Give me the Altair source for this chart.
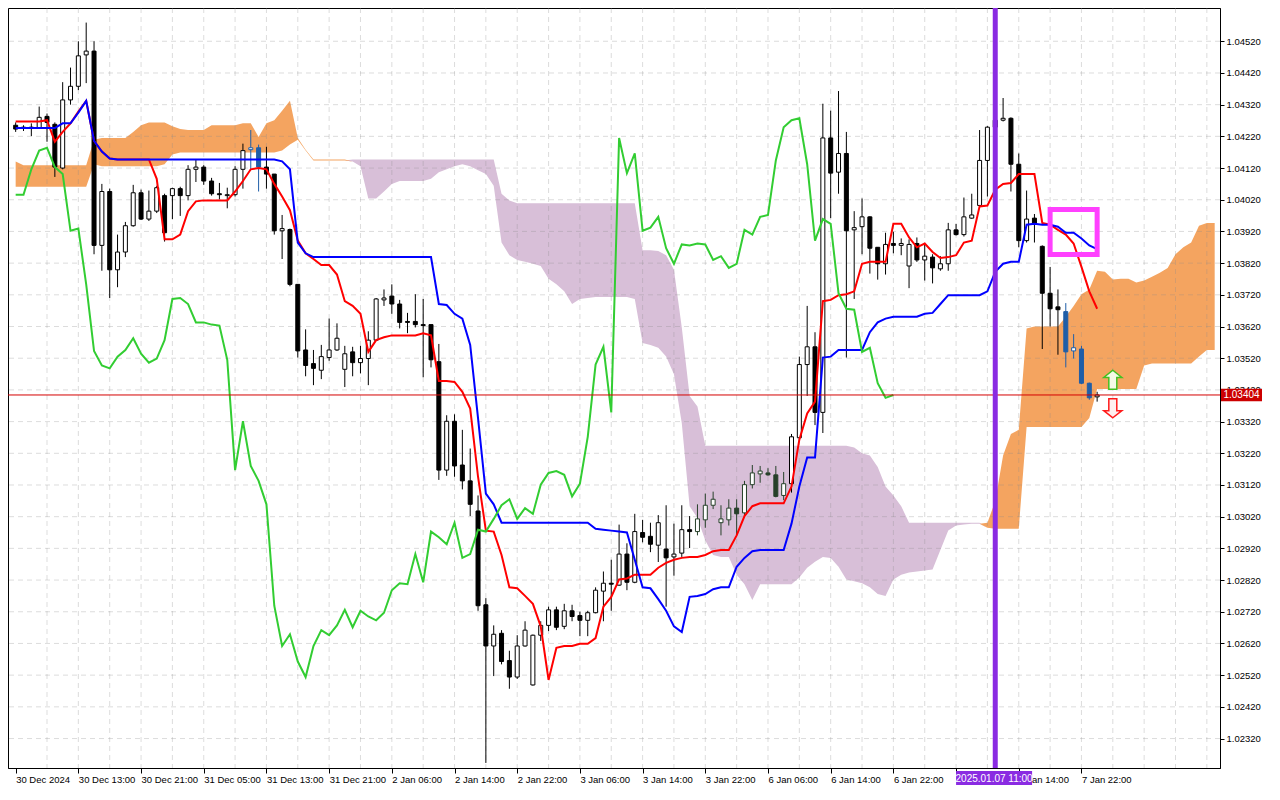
import altair as alt
import pandas as pd

# ---------------- data (EURUSD H1) ----------------
opens = [
    1.04255, 1.04246, 1.04246, 1.04246, 1.04283, 1.04258, 1.04120, 1.04335, 1.04378, 1.04477,
    1.04489, 1.03876, 1.04046, 1.03799, 1.03855, 1.03938, 1.04042, 1.03959, 1.03984, 1.04033,
    1.04033, 1.04055, 1.04033, 1.04116, 1.04123, 1.04079, 1.04039, 1.04033, 1.04036, 1.04116,
    1.04178, 1.04184, 1.04123, 1.04101, 1.03922, 1.03926, 1.03753, 1.03546, 1.03503, 1.03482,
    1.03522, 1.03546, 1.03485, 1.03540, 1.03506, 1.03519, 1.03577, 1.03704, 1.03716, 1.03691,
    1.03636, 1.03636, 1.03626, 1.03626, 1.03509, 1.03167, 1.03321, 1.03183, 1.03133, 1.03038,
    1.02742, 1.02612, 1.02652, 1.02566, 1.02514, 1.02612, 1.02489, 1.02646, 1.02677, 1.02726,
    1.02674, 1.02723, 1.02708, 1.02693, 1.02717, 1.02785, 1.02810, 1.02804, 1.02902, 1.02813,
    1.02970, 1.02958, 1.02930, 1.02918, 1.02893, 1.02905, 1.02979, 1.02973, 1.03010, 1.03056,
    1.03001, 1.03010, 1.03047, 1.03032, 1.03121, 1.03155, 1.03158, 1.03152, 1.03087, 1.03124,
    1.03269, 1.03500, 1.03556, 1.03349, 1.04215, 1.04107, 1.04166, 1.03925, 1.03935, 1.03966,
    1.03870, 1.03818, 1.03882, 1.03876, 1.03811, 1.03882, 1.03830, 1.03839, 1.03802, 1.03818,
    1.03925, 1.03910, 1.03962, 1.04002, 1.04144, 1.04249, 1.04271, 1.04277, 1.04132, 1.03891,
    1.03962, 1.03873, 1.03725, 1.03682, 1.03667, 1.03543, 1.03549, 1.03441, 1.03398,
]
highs = [
    1.04264, 1.04255, 1.04261, 1.04314, 1.04292, 1.04264, 1.04391, 1.04437, 1.04520, 1.04579,
    1.04520, 1.04070, 1.04055, 1.03910, 1.03950, 1.04067, 1.04052, 1.04049, 1.04064, 1.04039,
    1.04058, 1.04061, 1.04129, 1.04147, 1.04129, 1.04089, 1.04073, 1.04058, 1.04126, 1.04197,
    1.04240, 1.04194, 1.04187, 1.04101, 1.03972, 1.03929, 1.03753, 1.03611, 1.03546, 1.03562,
    1.03645, 1.03630, 1.03559, 1.03556, 1.03559, 1.03605, 1.03710, 1.03737, 1.03753, 1.03704,
    1.03663, 1.03722, 1.03707, 1.03626, 1.03565, 1.03340, 1.03343, 1.03294, 1.03235, 1.03087,
    1.02763, 1.02677, 1.02662, 1.02597, 1.02646, 1.02690, 1.02648, 1.02690, 1.02736, 1.02736,
    1.02745, 1.02742, 1.02720, 1.02723, 1.02797, 1.02847, 1.02884, 1.02995, 1.02936, 1.03029,
    1.03010, 1.03001, 1.03025, 1.03056, 1.02998, 1.03056, 1.03022, 1.03059, 1.03093, 1.03099,
    1.03056, 1.03075, 1.03075, 1.03133, 1.03183, 1.03180, 1.03173, 1.03180, 1.03161, 1.03281,
    1.03525, 1.03685, 1.03602, 1.04323, 1.04301, 1.04363, 1.04234, 1.03984, 1.04024, 1.03968,
    1.03870, 1.03916, 1.03919, 1.03898, 1.03895, 1.03901, 1.03879, 1.03848, 1.03842, 1.03947,
    1.03944, 1.04027, 1.04039, 1.04240, 1.04252, 1.04286, 1.04341, 1.04280, 1.04166, 1.04049,
    1.03975, 1.03876, 1.03808, 1.03737, 1.03694, 1.03596, 1.03559, 1.03443, 1.03414,
]
lows = [
    1.04234, 1.04237, 1.04221, 1.04244, 1.04203, 1.04092, 1.04116, 1.04320, 1.04366, 1.04388,
    1.03848, 1.03796, 1.03710, 1.03744, 1.03839, 1.03935, 1.03956, 1.03953, 1.03978, 1.03888,
    1.03959, 1.03969, 1.04018, 1.04076, 1.04067, 1.04033, 1.04021, 1.03993, 1.04030, 1.04055,
    1.04116, 1.04046, 1.04055, 1.03910, 1.03833, 1.03747, 1.03522, 1.03463, 1.03435, 1.03454,
    1.03512, 1.03543, 1.03429, 1.03463, 1.03472, 1.03435, 1.03577, 1.03685, 1.03660, 1.03614,
    1.03599, 1.03617, 1.03460, 1.03491, 1.03136, 1.03149, 1.03146, 1.03106, 1.03022, 1.02723,
    1.02243, 1.02517, 1.02554, 1.02477, 1.02508, 1.02610, 1.02487, 1.02628, 1.02659, 1.02662,
    1.02665, 1.02690, 1.02643, 1.02643, 1.02715, 1.02690, 1.02723, 1.02802, 1.02788, 1.02810,
    1.02939, 1.02908, 1.02877, 1.02736, 1.02834, 1.02893, 1.02921, 1.02961, 1.02985, 1.03044,
    1.02961, 1.02992, 1.02961, 1.03022, 1.03109, 1.03127, 1.03149, 1.03081, 1.03072, 1.03096,
    1.03260, 1.03401, 1.03309, 1.03284, 1.03962, 1.04039, 1.03522, 1.03707, 1.03848, 1.03787,
    1.03768, 1.03784, 1.03851, 1.03845, 1.03741, 1.03824, 1.03765, 1.03756, 1.03796, 1.03796,
    1.03907, 1.03904, 1.03960, 1.03999, 1.04030, 1.04240, 1.04267, 1.04046, 1.03870, 1.03885,
    1.03885, 1.03549, 1.03620, 1.03531, 1.03491, 1.03519, 1.03438, 1.03389, 1.03383,
]
closes = [
    1.04243, 1.04249, 1.04249, 1.04280, 1.04264, 1.04123, 1.04335, 1.04378, 1.04474, 1.04489,
    1.03876, 1.04046, 1.03799, 1.03855, 1.03938, 1.04042, 1.03959, 1.03984, 1.04058, 1.03916,
    1.04055, 1.04033, 1.04116, 1.04123, 1.04079, 1.04039, 1.04036, 1.04036, 1.04116, 1.04175,
    1.04184, 1.04123, 1.04101, 1.03922, 1.03929, 1.03753, 1.03543, 1.03497, 1.03488, 1.03525,
    1.03546, 1.03583, 1.03534, 1.03506, 1.03519, 1.03577, 1.03707, 1.03710, 1.03691, 1.03633,
    1.03633, 1.03626, 1.03623, 1.03515, 1.03167, 1.03321, 1.03180, 1.03133, 1.03059, 1.02739,
    1.02612, 1.02649, 1.02563, 1.02514, 1.02612, 1.02662, 1.02646, 1.02677, 1.02726, 1.02671,
    1.02723, 1.02705, 1.02693, 1.02717, 1.02788, 1.02810, 1.02807, 1.02902, 1.02813, 1.02973,
    1.02955, 1.02933, 1.03001, 1.02890, 1.02902, 1.02979, 1.02973, 1.03013, 1.03056, 1.03075,
    1.03013, 1.03047, 1.03029, 1.03121, 1.03158, 1.03164, 1.03152, 1.03084, 1.03124, 1.03272,
    1.03500, 1.03556, 1.03349, 1.04215, 1.04104, 1.04166, 1.03922, 1.03932, 1.03966, 1.03867,
    1.03818, 1.03879, 1.03876, 1.03882, 1.03879, 1.03830, 1.03842, 1.03805, 1.03818, 1.03925,
    1.03910, 1.03966, 1.03972, 1.04144, 1.04249, 1.04271, 1.04277, 1.04132, 1.03891, 1.03959,
    1.03944, 1.03725, 1.03676, 1.03673, 1.03540, 1.03553, 1.03441, 1.03395, 1.03404,
]
tenkan = [
    1.04267, 1.04267, 1.04267, 1.04267, 1.04271, 1.04203, 1.04234, 1.04261, 1.04298, 1.04332,
    1.04206, 1.04172, 1.04150, 1.04147, 1.04147, 1.04147, 1.04147, 1.04147, 1.04086, 1.03895,
    1.03895, 1.03910, 1.03984, 1.04015, 1.04018, 1.04018, 1.04018, 1.04018, 1.04046, 1.04079,
    1.04116, 1.04120, 1.04116, 1.04070, 1.04030, 1.03987, 1.03891, 1.03851, 1.03833, 1.03814,
    1.03814, 1.03784, 1.03700, 1.03685, 1.03660, 1.03540, 1.03577, 1.03586, 1.03592, 1.03592,
    1.03592, 1.03592, 1.03599, 1.03592, 1.03448, 1.03448, 1.03445, 1.03414, 1.03361, 1.03146,
    1.02976, 1.02973, 1.02899, 1.02797, 1.02794, 1.02770, 1.02745, 1.02674, 1.02505, 1.02606,
    1.02612, 1.02612, 1.02619, 1.02619, 1.02637, 1.02736, 1.02767, 1.02822, 1.02825, 1.02837,
    1.02837, 1.02837, 1.02859, 1.02874, 1.02884, 1.02890, 1.02893, 1.02893, 1.02899, 1.02911,
    1.02915, 1.02915, 1.02961, 1.03022, 1.03053, 1.03062, 1.03062, 1.03062, 1.03062, 1.03115,
    1.03263, 1.03346, 1.03383, 1.03700, 1.03704, 1.03719, 1.03722, 1.03731, 1.03818, 1.03824,
    1.03824, 1.03824, 1.03944, 1.03944, 1.03901, 1.03870, 1.03882, 1.03855, 1.03836, 1.03839,
    1.03845, 1.03885, 1.03891, 1.03999, 1.04002, 1.04052, 1.04070, 1.04073, 1.04101, 1.04101,
    1.04101, 1.03947, 1.03941, 1.03925, 1.03910, 1.03882, 1.03808, 1.03731, 1.03676,
]
kijun = [
    1.04246, 1.04246, 1.04246, 1.04246, 1.04246, 1.04246, 1.04261, 1.04261, 1.04295, 1.04332,
    1.04206, 1.04172, 1.04150, 1.04147, 1.04147, 1.04147, 1.04147, 1.04147, 1.04147, 1.04147,
    1.04147, 1.04147, 1.04147, 1.04147, 1.04147, 1.04147, 1.04147, 1.04147, 1.04147, 1.04147,
    1.04147, 1.04147, 1.04147, 1.04147, 1.04141, 1.04116, 1.03885, 1.03851, 1.03839, 1.03839,
    1.03839, 1.03839, 1.03839, 1.03839, 1.03839, 1.03839, 1.03839, 1.03839, 1.03839, 1.03839,
    1.03839, 1.03839, 1.03839, 1.03839, 1.03691, 1.03688, 1.03660, 1.03645, 1.03562, 1.03331,
    1.03093, 1.03059, 1.03001, 1.03001, 1.03001, 1.03001, 1.03001, 1.03001, 1.03001, 1.03001,
    1.03001, 1.03001, 1.03001, 1.03001, 1.02982, 1.02979, 1.02976, 1.02973, 1.02970, 1.02884,
    1.02797, 1.02794, 1.02760, 1.02723, 1.02674, 1.02656, 1.02767, 1.02770, 1.02776, 1.02791,
    1.02797, 1.02797, 1.02862, 1.02890, 1.02911, 1.02915, 1.02915, 1.02915, 1.02915, 1.02998,
    1.03115, 1.03207, 1.03207, 1.03522, 1.03525, 1.03546, 1.03546, 1.03546, 1.03546, 1.03602,
    1.03633, 1.03645, 1.03651, 1.03651, 1.03651, 1.03651, 1.03660, 1.03663, 1.03691, 1.03719,
    1.03719, 1.03719, 1.03719, 1.03719, 1.03731, 1.03793, 1.03818, 1.03824, 1.03824, 1.03941,
    1.03944, 1.03941, 1.03941, 1.03935, 1.03916, 1.03916, 1.03898, 1.03876, 1.03864,
]
span_a = [
    1.04141, 1.04129, 1.04129, 1.04129, 1.04129, 1.04129, 1.04129, 1.04129, 1.04129, 1.04129,
    1.04209, 1.04215, 1.04215, 1.04215, 1.04215, 1.04234, 1.04255, 1.04264, 1.04264, 1.04264,
    1.04252, 1.04243, 1.04240, 1.04240, 1.04240, 1.04255, 1.04255, 1.04255, 1.04255, 1.04261,
    1.04261, 1.04218, 1.04261, 1.04271, 1.04301, 1.04332, 1.04215, 1.04178, 1.04147, 1.04147,
    1.04147, 1.04147, 1.04147, 1.04141, 1.04126, 1.04024, 1.04024, 1.04046, 1.04070, 1.04079,
    1.04079, 1.04079, 1.04079, 1.04086, 1.04107, 1.04116, 1.04126, 1.04132, 1.04126, 1.04113,
    1.04101, 1.04064, 1.03885, 1.03845, 1.03830, 1.03824, 1.03818, 1.03811, 1.03771, 1.03753,
    1.03731, 1.03691, 1.03707, 1.03710, 1.03713, 1.03713, 1.03713, 1.03713, 1.03713, 1.03707,
    1.03568, 1.03562, 1.03553, 1.03525, 1.03469, 1.03315, 1.03053, 1.03016, 1.02945, 1.02899,
    1.02893, 1.02893, 1.02837, 1.02807, 1.02757, 1.02807, 1.02807, 1.02807, 1.02807, 1.02807,
    1.02828, 1.02859, 1.02878, 1.02893, 1.02890, 1.02862, 1.02822, 1.02816, 1.02810, 1.02797,
    1.02776, 1.02770, 1.02822, 1.02837, 1.02844, 1.02847, 1.02850, 1.02853, 1.02915, 1.02976,
    1.02992, 1.02995, 1.02998, 1.02998, 1.03001, 1.03069, 1.03213, 1.03281, 1.03294, 1.03614,
    1.03620, 1.03620, 1.03620, 1.03620, 1.03651, 1.03685, 1.03722, 1.03737, 1.03796, 1.03793,
    1.03768, 1.03771, 1.03771, 1.03759, 1.03765, 1.03777, 1.03790, 1.03805, 1.03848, 1.03870,
    1.03885, 1.03938, 1.03947, 1.03947,
]
span_b = [
    1.04061, 1.04061, 1.04061, 1.04061, 1.04061, 1.04061, 1.04061, 1.04061, 1.04061, 1.04061,
    1.04132, 1.04126, 1.04126, 1.04126, 1.04126, 1.04126, 1.04126, 1.04126, 1.04126, 1.04132,
    1.04163, 1.04169, 1.04169, 1.04169, 1.04169, 1.04169, 1.04169, 1.04169, 1.04169, 1.04169,
    1.04169, 1.04169, 1.04169, 1.04169, 1.04175, 1.04194, 1.04209, 1.04175, 1.04144, 1.04144,
    1.04144, 1.04144, 1.04144, 1.04147, 1.04147, 1.04147, 1.04147, 1.04147, 1.04147, 1.04147,
    1.04147, 1.04147, 1.04147, 1.04147, 1.04147, 1.04147, 1.04147, 1.04147, 1.04147, 1.04147,
    1.04147, 1.04147, 1.04039, 1.04018, 1.04009, 1.04009, 1.04009, 1.04009, 1.04009, 1.04009,
    1.04009, 1.04009, 1.04009, 1.04009, 1.04009, 1.04009, 1.04009, 1.04009, 1.04009, 1.04009,
    1.03861, 1.03861, 1.03858, 1.03845, 1.03799, 1.03617, 1.03401, 1.03368, 1.03244, 1.03244,
    1.03244, 1.03244, 1.03244, 1.03244, 1.03244, 1.03244, 1.03244, 1.03244, 1.03244, 1.03244,
    1.03244, 1.03244, 1.03244, 1.03244, 1.03244, 1.03244, 1.03244, 1.03238, 1.03220, 1.03213,
    1.03177, 1.03115, 1.03087, 1.03053, 1.03001, 1.03001, 1.03001, 1.03001, 1.03001, 1.03001,
    1.03001, 1.03001, 1.03001, 1.03001, 1.02985, 1.02982, 1.02982, 1.02982, 1.02982, 1.03303,
    1.03303, 1.03303, 1.03303, 1.03303, 1.03303, 1.03303, 1.03303, 1.03331, 1.03423, 1.03423,
    1.03423, 1.03423, 1.03423, 1.03423, 1.03497, 1.03503, 1.03503, 1.03503, 1.03503, 1.03503,
    1.03503, 1.03525, 1.03546, 1.03546,
]
x_tick_bars = [0, 8, 16, 24, 32, 40, 48, 56, 64, 72, 80, 88, 96, 104, 112, 120, 128, 136]
# the 7 Jan 06:00 slot is covered by the vertical-line date box in the reference
x_tick_labels = [
    "30 Dec 2024", "30 Dec 13:00", "30 Dec 21:00", "31 Dec 05:00", "31 Dec 13:00",
    "31 Dec 21:00", "2 Jan 06:00", "2 Jan 14:00", "2 Jan 22:00", "3 Jan 06:00",
    "3 Jan 14:00", "3 Jan 22:00", "6 Jan 06:00", "6 Jan 14:00", "6 Jan 22:00",
    "", "7 Jan 14:00", "7 Jan 22:00",
]
price_ticks = [
    1.02320, 1.02420, 1.02520, 1.02620, 1.02720, 1.02820, 1.02920, 1.03020,
    1.03120, 1.03220, 1.03320, 1.03420, 1.03520, 1.03620, 1.03720, 1.03820,
    1.03920, 1.04020, 1.04120, 1.04220, 1.04320, 1.04420, 1.04520,
]
last_price = 1.03404
last_price_text = "1.03404"
marker_bar = 125
marker_text = "2025.01.07 11:00"
marker_box_bars = [120.0, 129.7]
box_bars = [132.0, 138.0]
box_prices = [1.03989, 1.03847]
arrow_bar = 140
arrow_up_price = 1.03452
arrow_down_price = 1.03362
chikou_shift = 26

# ---------------- layout / style ----------------
W, H = 1212, 760
PAD = {"left": 0, "top": 0, "right": 52, "bottom": 24}
FONT = "Liberation Sans"
FS = 9.5
X_DOMAIN = [-0.34, 153.04]
Y_DOMAIN = [1.02227, 1.04625]
PRICE_BOX_HALF = 0.0002
blue_bars = [30, 31, 134, 135, 136, 137]
green_bars = list(range(87, 99))
grid_bars = list(range(4, 153, 4))

xscale = alt.Scale(domain=X_DOMAIN, nice=False, zero=False)
yscale = alt.Scale(domain=Y_DOMAIN, nice=False, zero=False)
label_expr = ("[" + ",".join("'" + s + "'" for s in x_tick_labels) + "][indexof(["
              + ",".join(str(b) for b in x_tick_bars) + "], datum.value)]")
xaxis = alt.Axis(values=x_tick_bars, labelExpr=label_expr, title="", grid=False,
                 labelAlign="left", labelFlush=False, labelOverlap=False, tickSize=5,
                 labelPadding=1, domainColor="black", tickColor="black",
                 labelColor="black", labelFont=FONT, labelFontSize=FS)
yaxis = alt.Axis(orient="right", values=price_ticks, format=".5f", title="", grid=False,
                 tickSize=4, labelPadding=2, labelOverlap=False, labelFlush=False,
                 domainColor="black", tickColor="black", labelColor="black",
                 labelFont=FONT, labelFontSize=FS)


def X(f):
    return alt.X(f, type="quantitative", scale=xscale, axis=xaxis)


def Y(f):
    return alt.Y(f, type="quantitative", scale=yscale, axis=yaxis)


n = len(opens)
bars = list(range(n))
tone = {}
for b in blue_bars:
    tone[b] = "#1f5ea8"
for b in green_bars:
    tone[b] = "#27402a"
cdf = pd.DataFrame({"bar": bars, "open": opens, "high": highs, "low": lows, "close": closes})
cdf["top"] = cdf[["open", "close"]].max(axis=1)
cdf["bot"] = cdf[["open", "close"]].min(axis=1)
cdf["ink"] = [tone.get(b, "#000000") for b in bars]
cdf["fillc"] = ["#ffffff" if c >= o else k for o, c, k in zip(opens, closes, cdf["ink"])]

ldf = pd.DataFrame({"bar": bars, "tenkan": tenkan, "kijun": kijun})
chdf = pd.DataFrame({"bar": list(range(n - chikou_shift)), "chikou": closes[chikou_shift:]})
cloud = pd.DataFrame({"bar": list(range(len(span_a))), "a": span_a, "b": span_b})
cloud["low"] = cloud[["a", "b"]].min(axis=1)

purple = alt.Chart(cloud).mark_area(color="#D8BFD8", opacity=1).encode(
    x=X("bar"), y=Y("b"), y2=alt.Y2("low"))
orange = alt.Chart(cloud).mark_area(color="#F4A460", opacity=1).encode(
    x=X("bar"), y=Y("a"), y2=alt.Y2("low"))

hgrid = alt.Chart(pd.DataFrame({"p": price_ticks})).mark_rule(
    color="#8c8c8c", opacity=0.3, strokeDash=[5, 4], strokeWidth=1).encode(y=Y("p"))
vgrid = alt.Chart(pd.DataFrame({"g": grid_bars})).mark_rule(
    color="#8c8c8c", opacity=0.3, strokeDash=[5, 4], strokeWidth=1).encode(x=X("g"))

wicks = alt.Chart(cdf).mark_rule(strokeWidth=1).encode(
    x=X("bar"), y=Y("high"), y2=alt.Y2("low"), color=alt.Color("ink:N", scale=None))
bodies = alt.Chart(cdf).mark_bar(size=4, strokeWidth=1).encode(
    x=X("bar"), y=Y("top"), y2=alt.Y2("bot"),
    fill=alt.Fill("fillc:N", scale=None), stroke=alt.Stroke("ink:N", scale=None))

tenkan_line = alt.Chart(ldf).mark_line(color="#FF0000", strokeWidth=2).encode(x=X("bar"), y=Y("tenkan"))
kijun_line = alt.Chart(ldf).mark_line(color="#0000FF", strokeWidth=2).encode(x=X("bar"), y=Y("kijun"))
chikou_line = alt.Chart(chdf).mark_line(color="#32CD32", strokeWidth=2).encode(x=X("bar"), y=Y("chikou"))

price_line = alt.Chart(pd.DataFrame({"p": [last_price]})).mark_rule(
    color="#d40000", strokeWidth=1).encode(y=Y("p"))
marker_line = alt.Chart(pd.DataFrame({"bar": [marker_bar]})).mark_rule(
    color="#8A2BE2", strokeWidth=5).encode(x=X("bar"))

box = alt.Chart(pd.DataFrame({"b0": [box_bars[0]], "b1": [box_bars[1]],
                              "p0": [box_prices[0]], "p1": [box_prices[1]]})).mark_rect(
    fillOpacity=0, stroke="#ff40ff", strokeWidth=5).encode(
    x=X("b0"), x2=alt.X2("b1"), y=Y("p0"), y2=alt.Y2("p1"))

UP = "M0,-1L0.95,-0.25L0.42,-0.25L0.42,1L-0.42,1L-0.42,-0.25L-0.95,-0.25Z"
DOWN = "M0,1L0.95,0.25L0.42,0.25L0.42,-1L-0.42,-1L-0.42,0.25L-0.95,0.25Z"
up_arrow = alt.Chart(pd.DataFrame({"bar": [arrow_bar], "p": [arrow_up_price]})).mark_point(
    shape=UP, size=361, filled=True, fill="#f4fbe8", stroke="#44c022", strokeWidth=1.5,
    opacity=1).encode(x=X("bar"), y=Y("p"))
down_arrow = alt.Chart(pd.DataFrame({"bar": [arrow_bar], "p": [arrow_down_price]})).mark_point(
    shape=DOWN, size=361, filled=True, fill="#fff0f0", stroke="#ff1a1a", strokeWidth=1.5,
    opacity=1).encode(x=X("bar"), y=Y("p"))

pbox_df = pd.DataFrame({"top": [last_price + PRICE_BOX_HALF], "bot": [last_price - PRICE_BOX_HALF],
                        "p": [last_price], "label": [last_price_text]})
price_box = alt.Chart(pbox_df).mark_rect(color="#cc0000").encode(
    x=alt.value(W + 1), x2=alt.value(W + 42), y=Y("top"), y2=alt.Y2("bot"))
price_text = alt.Chart(pbox_df).mark_text(
    color="white", font=FONT, fontSize=FS + 0.5, align="center", baseline="middle").encode(
    x=alt.value(W + 21.5), y=Y("p"), text="label:N")

dbox_df = pd.DataFrame({"b0": [marker_box_bars[0]], "b1": [marker_box_bars[1]],
                        "bar": [(marker_box_bars[0] + marker_box_bars[1]) / 2],
                        "label": [marker_text]})
date_box = alt.Chart(dbox_df).mark_rect(color="#8A2BE2").encode(
    x=X("b0"), x2=alt.X2("b1"), y=alt.value(H + 3), y2=alt.value(H + 17))
date_text = alt.Chart(dbox_df).mark_text(
    color="white", font=FONT, fontSize=FS + 0.5, align="center", baseline="middle").encode(
    x=X("bar"), y=alt.value(H + 10.5), text="label:N")

chart = alt.layer(
    purple, orange, hgrid, vgrid, wicks, bodies,
    tenkan_line, kijun_line, chikou_line,
    price_line, marker_line, box, up_arrow, down_arrow,
    price_box, price_text, date_box, date_text,
).properties(
    width=W, height=H, padding=PAD, background="white",
    autosize=alt.AutoSizeParams(type="none"),
).configure_view(stroke="black", strokeWidth=1)

chart.save("out.html", embed_options={"renderer": "svg", "actions": False})
